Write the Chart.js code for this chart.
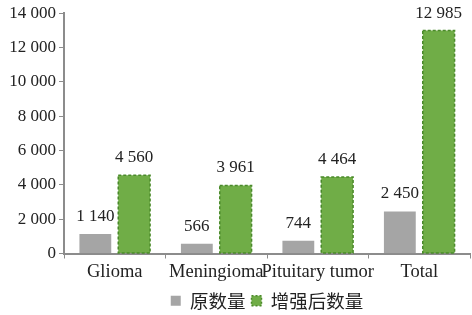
<!DOCTYPE html>
<html>
<head>
<meta charset="utf-8">
<script src="https://cdn.jsdelivr.net/npm/chart.js@4"></script>
<style>
  html, body { margin: 0; padding: 0; background: #fff; }
  #wrap { width: 472px; height: 315px; }
</style>
</head>
<body>
<div id="wrap"><canvas id="myChart"></canvas></div>
<script>
// Chart data
const categories = ['Glioma', 'Meningioma', 'Pituitary tumor', 'Total'];
const originalCounts = [1140, 566, 744, 2450];
const augmentedCounts = [4560, 3961, 4464, 12985];
const yTicks = [0, 2000, 4000, 6000, 8000, 10000, 12000, 14000];

const serif = '"Liberation Serif", "DejaVu Serif", serif';
const axisColor = '#8c8c8c';

// number with space as thousands separator
function fmt(v) {
  return String(v).replace(/\B(?=(\d{3})+(?!\d))/g, ' ');
}

// value labels above bars + dashed border on green bars
const barExtras = {
  id: 'barExtras',
  afterDatasetsDraw(chart) {
    const ctx = chart.ctx;
    ctx.save();
    chart.data.datasets.forEach((ds, i) => {
      const meta = chart.getDatasetMeta(i);
      meta.data.forEach((bar, j) => {
        if (ds.dashBorder) {
          ctx.strokeStyle = ds.dashBorder;
          ctx.lineWidth = 1.5;
          ctx.setLineDash([3, 2]);
          ctx.strokeRect(bar.x - bar.width / 2, bar.y, bar.width, bar.base - bar.y);
          ctx.setLineDash([]);
        }
        ctx.fillStyle = '#222';
        ctx.font = '17px ' + serif;
        ctx.textAlign = 'center';
        ctx.textBaseline = 'bottom';
        ctx.fillText(fmt(ds.data[j]), bar.x, bar.y - 9);
      });
    });
    ctx.restore();
  }
};

function draw() {
  const ctx = document.getElementById('myChart');
  return new Chart(ctx, {
    type: 'bar',
    data: {
      labels: categories,
      datasets: [{
        label: '原数量',
        data: originalCounts,
        backgroundColor: '#a5a5a5',
        borderWidth: 0,
        categoryPercentage: 0.765,
        barPercentage: 0.82
      }, {
        label: '增强后数量',
        data: augmentedCounts,
        backgroundColor: '#70ad47',
        borderWidth: 0,
        dashBorder: '#4a8a2a',
        categoryPercentage: 0.765,
        barPercentage: 0.82
      }]
    },
    options: {
      responsive: true,
      maintainAspectRatio: false,
      animation: false,
      // legend keeps 10px of empty room under it, let that spill off the canvas
      layout: { padding: { top: 6, right: 2, left: 2, bottom: -5 } },
      plugins: {
        tooltip: { enabled: false },
        legend: {
          display: true,
          position: 'bottom',
          fullSize: false,
          labels: {
            color: '#222',
            font: { size: 18.5, family: '"Noto Sans CJK SC", sans-serif' },
            boxWidth: 10,
            boxHeight: 10,
            padding: 6,
            generateLabels(chart) {
              return chart.data.datasets.map((ds, i) => ({
                text: ds.label,
                fillStyle: ds.backgroundColor,
                strokeStyle: ds.dashBorder || ds.backgroundColor,
                lineWidth: ds.dashBorder ? 1.5 : 0,
                lineDash: ds.dashBorder ? [2, 2] : [],
                datasetIndex: i,
                fontColor: '#222'
              }));
            }
          }
        }
      },
      scales: {
        x: {
          afterFit(axis) {
            axis.height = 32;
          },
          grid: {
            display: true,
            drawOnChartArea: false,
            offset: true,
            color: axisColor,
            tickLength: 5
          },
          border: { color: axisColor, width: 2 },
          ticks: {
            color: '#222',
            font: { size: 18.5, family: serif },
            maxRotation: 0,
            autoSkip: false,
            padding: 3
          }
        },
        y: {
          min: 0,
          max: 14000,
          afterBuildTicks(axis) {
            axis.ticks = yTicks.map(v => ({ value: v }));
          },
          afterFit(axis) {
            axis.width = 62;
          },
          grid: {
            display: true,
            drawOnChartArea: false,
            color: axisColor,
            tickLength: 5
          },
          border: { color: axisColor, width: 2 },
          ticks: {
            color: '#222',
            font: { size: 17, family: serif },
            padding: 3,
            callback: v => fmt(v)
          }
        }
      }
    },
    plugins: [barExtras]
  });
}

Promise.all([
  document.fonts.load('18px "Liberation Serif"'),
  document.fonts.load('19px "Noto Sans CJK SC"', '原数量增强后')
]).then(draw, draw);
</script>
</body>
</html>
